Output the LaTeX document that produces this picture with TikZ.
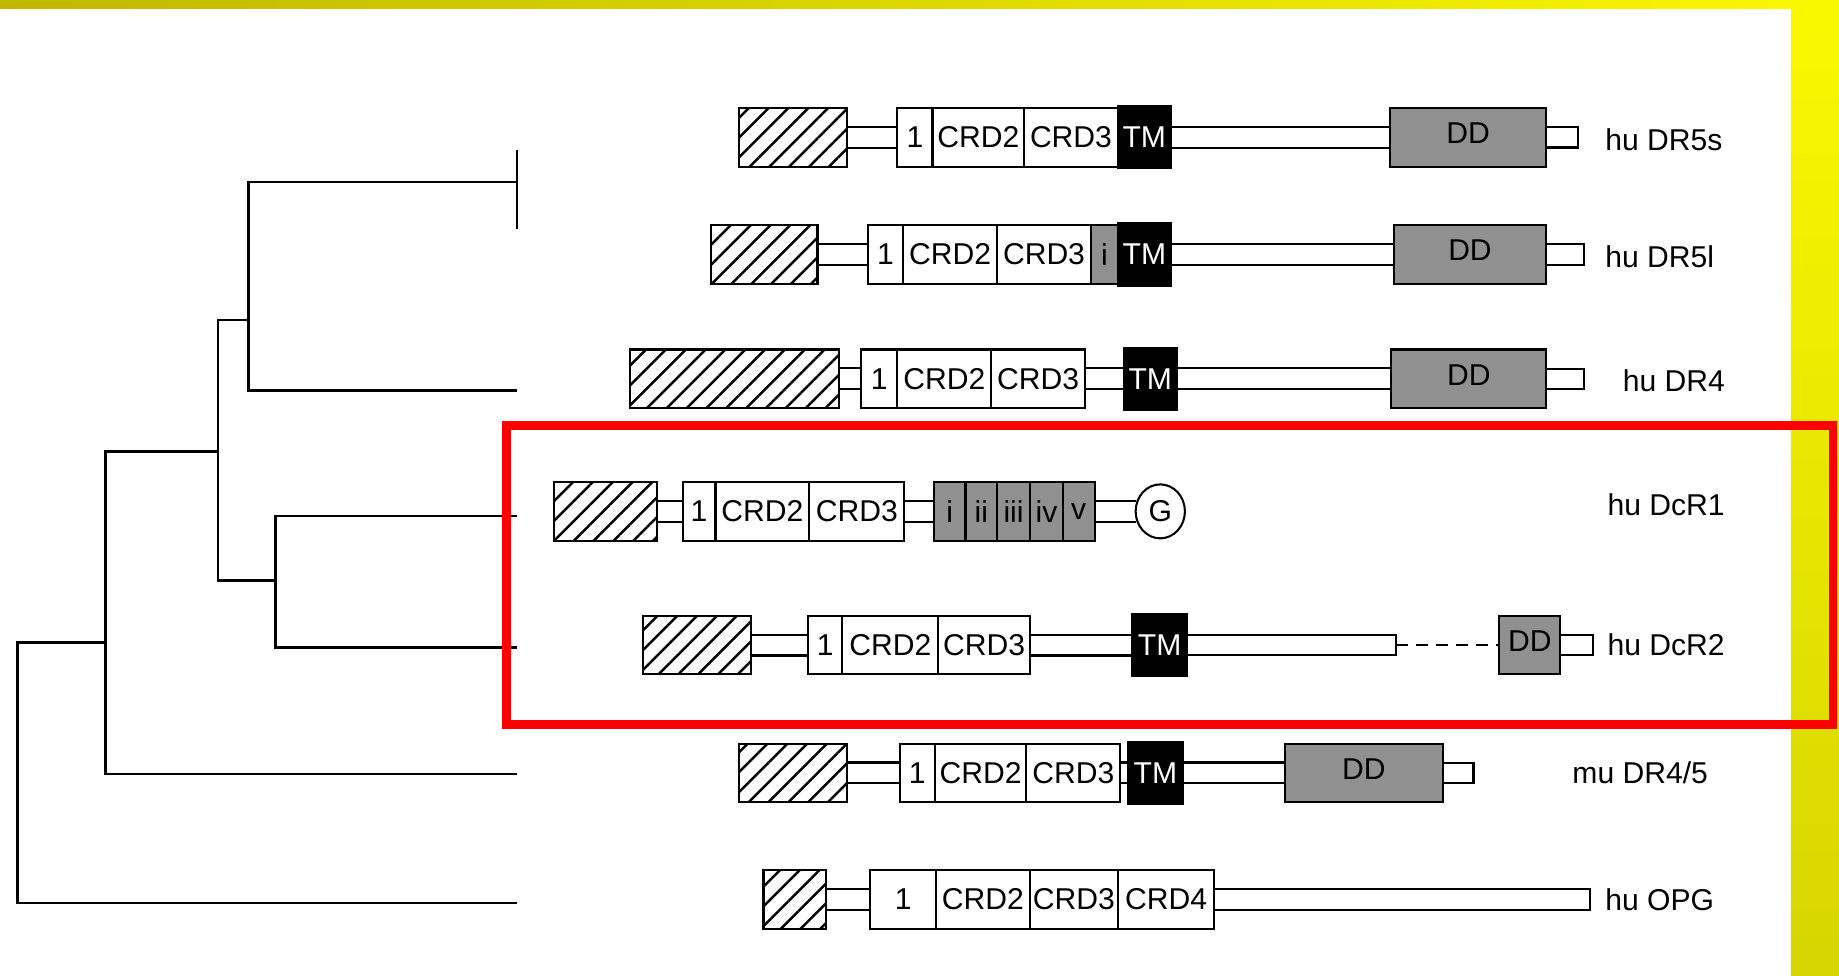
\documentclass[tikz,border=0pt]{standalone}
\usepackage{fontspec}
\setmainfont{Liberation Sans}
\usetikzlibrary{positioning, shapes.geometric, patterns.meta, backgrounds}
\pgfdeclarelayer{paper}
\pgfsetlayers{paper,background,main}
\newcommand\domfont{\fontsize{7.3}{8.5}\selectfont}
\definecolor{ddgrey}{RGB}{144,144,144}
\definecolor{hired}{RGB}{255,0,0}
\definecolor{bandleft}{RGB}{190,185,0}
\definecolor{bandright}{RGB}{250,248,0}
\definecolor{bandbottom}{RGB}{215,213,0}
\tikzset{
    sigbox/.style={rectangle, draw, line width=0.5pt, inner sep=0pt, outer sep=0pt, minimum height=0.5cm, minimum width=#1, pattern={Lines[angle=45, distance=3.4pt, line width=0.6pt]}},
    sigbox/.default=0.9cm,
    crdbox/.style={rectangle, draw, fill=white, line width=0.5pt, inner sep=0pt, outer sep=0pt, minimum height=0.5cm, minimum width=#1, font=\domfont},
    crdbox/.default=0.8cm,
    tmbox/.style={crdbox=#1, fill=black, text=white, minimum height=0.53cm},
    tmbox/.default=0.45cm,
    greybox/.style={crdbox=#1, fill=ddgrey},
    greybox/.default=0.27cm,
    ddbox/.style={greybox=#1, text depth=2pt},
    ddbox/.default=1.3cm,
    tailbox/.style={rectangle, draw, fill=white, line width=0.5pt, inner sep=0pt, outer sep=0pt, minimum height=0.175cm, minimum width=#1},
    tailbox/.default=0.3cm,
    gbox/.style={ellipse, draw, fill=white, line width=0.5pt, inner sep=0pt, outer sep=0pt, minimum width=0.42cm, minimum height=0.46cm, font=\domfont},
    linker/.style={draw, double=white, double distance=0.16cm, line width=0.5pt},
    protname/.style={anchor=west, inner sep=0pt, font=\domfont},
    branch/.style={line width=0.6pt},
    hilite/.style={draw=hired, line width=2.1pt}
}

\begin{document}
\begin{tikzpicture}[x=0.01cm, y=-0.01cm, node distance=0pt]

\useasboundingbox (0,0) rectangle (1568,832);
\begin{pgfonlayer}{paper}
    \fill[white] (0,0) rectangle (1568,832);
    \shade[left color=bandleft, right color=bandright] (0,0) rectangle (1568,7.5);
    \shade[top color=bandright, bottom color=bandbottom] (1527,0) rectangle (1568,832);
\end{pgfonlayer}

% hu DR5s
\node[sigbox=0.92cm, anchor=west] (dr5s-h) at (630,117) {};
\node[crdbox=0.30cm, right=0.43cm of dr5s-h] (dr5s-a) {1};
\node[crdbox=0.78cm, right=of dr5s-a] (dr5s-b) {CRD2};
\node[crdbox=0.80cm, right=of dr5s-b] (dr5s-c) {CRD3};
\node[tmbox=0.45cm, right=of dr5s-c] (dr5s-tm) {TM};
\node[ddbox=1.33cm, right=1.87cm of dr5s-tm] (dr5s-dd) {DD};
\node[tailbox=0.27cm, right=of dr5s-dd] (dr5s-t) {};
\node[protname] (dr5s-name) at (1368,119) {hu DR5s};

% hu DR5l
\node[sigbox=0.91cm, anchor=west] (dr5l-h) at (606,217) {};
\node[crdbox=0.30cm, right=0.43cm of dr5l-h] (dr5l-a) {1};
\node[crdbox=0.80cm, right=of dr5l-a] (dr5l-b) {CRD2};
\node[crdbox=0.80cm, right=of dr5l-b] (dr5l-c) {CRD3};
\node[greybox=0.23cm, right=of dr5l-c] (dr5l-i) {i};
\node[tmbox=0.45cm, right=of dr5l-i] (dr5l-tm) {TM};
\node[ddbox=1.30cm, right=1.90cm of dr5l-tm] (dr5l-dd) {DD};
\node[tailbox=0.32cm, right=of dr5l-dd] (dr5l-t) {};
\node[protname] (dr5l-name) at (1368,219) {hu DR5l};

% hu DR4
\node[sigbox=1.78cm, anchor=west] (dr4-h) at (537,323) {};
\node[crdbox=0.31cm, right=0.19cm of dr4-h] (dr4-a) {1};
\node[crdbox=0.80cm, right=of dr4-a] (dr4-b) {CRD2};
\node[crdbox=0.80cm, right=of dr4-b] (dr4-c) {CRD3};
\node[tmbox=0.45cm, right=0.33cm of dr4-c] (dr4-tm) {TM};
\node[ddbox=1.32cm, right=1.83cm of dr4-tm] (dr4-dd) {DD};
\node[tailbox=0.32cm, right=of dr4-dd] (dr4-t) {};
\node[protname] (dr4-name) at (1383,325) {hu DR4};

% hu DcR1
\node[sigbox=0.88cm, anchor=west] (dcr1-h) at (472,436) {};
\node[crdbox=0.28cm, right=0.22cm of dcr1-h] (dcr1-a) {1};
\node[crdbox=0.80cm, right=of dcr1-a] (dcr1-b) {CRD2};
\node[crdbox=0.81cm, right=of dcr1-b] (dcr1-c) {CRD3};
\node[greybox=0.27cm, right=0.25cm of dcr1-c] (dcr1-r1) {i};
\node[greybox=0.27cm, right=of dcr1-r1] (dcr1-r2) {ii};
\node[greybox=0.28cm, right=of dcr1-r2] (dcr1-r3) {iii};
\node[greybox=0.28cm, right=of dcr1-r3] (dcr1-r4) {iv};
\node[greybox=0.27cm, right=of dcr1-r4] (dcr1-r5) {v};
\node[gbox, right=0.35cm of dcr1-r5] (dcr1-g) {G};
\node[protname] (dcr1-name) at (1370,430) {hu DcR1};

% hu DcR2
\node[sigbox=0.92cm, anchor=west] (dcr2-h) at (548,550) {};
\node[crdbox=0.29cm, right=0.49cm of dcr2-h] (dcr2-a) {1};
\node[crdbox=0.82cm, right=of dcr2-a] (dcr2-b) {CRD2};
\node[crdbox=0.78cm, right=of dcr2-b] (dcr2-c) {CRD3};
\node[tmbox=0.47cm, right=0.87cm of dcr2-c] (dcr2-tm) {TM};
\node[tailbox=1.78cm, right=of dcr2-tm] (dcr2-s) {};
\node[ddbox=0.52cm, right=0.88cm of dcr2-s] (dcr2-dd) {DD};
\node[tailbox=0.28cm, right=of dcr2-dd] (dcr2-t) {};
\node[protname] (dcr2-name) at (1370,550) {hu DcR2};

% mu DR4/5
\node[sigbox=0.92cm, anchor=west] (mu-h) at (630,659) {};
\node[crdbox=0.30cm, right=0.45cm of mu-h] (mu-a) {1};
\node[crdbox=0.78cm, right=of mu-a] (mu-b) {CRD2};
\node[crdbox=0.80cm, right=of mu-b] (mu-c) {CRD3};
\node[tmbox=0.46cm, right=0.07cm of mu-c] (mu-tm) {TM};
\node[ddbox=1.35cm, right=0.87cm of mu-tm] (mu-dd) {DD};
\node[tailbox=0.26cm, right=of mu-dd] (mu-t) {};
\node[protname] (mu-name) at (1340,659) {mu DR4/5};

% hu OPG
\node[sigbox=0.53cm, anchor=west] (opg-h) at (651,767) {};
\node[crdbox=0.56cm, right=0.38cm of opg-h] (opg-a) {1};
\node[crdbox=0.80cm, right=of opg-a] (opg-b) {CRD2};
\node[crdbox=0.75cm, right=of opg-b] (opg-c) {CRD3};
\node[crdbox=0.82cm, right=of opg-c] (opg-d) {CRD4};
\node[tailbox=3.20cm, right=of opg-d] (opg-t) {};
\node[protname] (opg-name) at (1368,767) {hu OPG};

\begin{scope}[on background layer]
    \draw[linker] (dr5s-h) -- (dr5s-a);
    \draw[linker] (dr5s-tm) -- (dr5s-dd);
    \draw[linker] (dr5l-h) -- (dr5l-a);
    \draw[linker] (dr5l-tm) -- (dr5l-dd);
    \draw[linker] (dr4-h) -- (dr4-a);
    \draw[linker] (dr4-c) -- (dr4-tm);
    \draw[linker] (dr4-tm) -- (dr4-dd);
    \draw[linker] (dcr1-h) -- (dcr1-a);
    \draw[linker] (dcr1-c) -- (dcr1-r1);
    \draw[linker] (dcr1-r5) -- (dcr1-g);
    \draw[linker] (dcr2-h) -- (dcr2-a);
    \draw[linker] (dcr2-c) -- (dcr2-tm);
    \draw[linker] (mu-h) -- (mu-a);
    \draw[linker] (mu-c) -- (mu-tm);
    \draw[linker] (mu-tm) -- (mu-dd);
    \draw[linker] (opg-h) -- (opg-a);
\end{scope}
\draw[line width=0.5pt, dash pattern=on 0.1cm off 0.07cm] (dcr2-s) -- (dcr2-dd);

% tree
\coordinate (root) at (15,659);
\coordinate (n2) at (90,548);
\coordinate (n3) at (186,385);
\coordinate (n4) at (212,273);
\coordinate (n5) at (235,495);
\coordinate (leaf-dr5) at (441,155);
\coordinate (leaf-dr4) at (441,333);
\coordinate (leaf-dcr1) at (441,440);
\coordinate (leaf-dcr2) at (441,552);
\coordinate (leaf-mu) at (441,660);
\coordinate (leaf-opg) at (441,770);

\draw[branch] (root) |- (n2);
\draw[branch] (root) |- (leaf-opg);
\draw[branch] (n2) |- (n3);
\draw[branch] (n2) |- (leaf-mu);
\draw[branch] (n3) |- (n4);
\draw[branch] (n3) |- (n5);
\draw[branch] (n4) |- (leaf-dr5);
\draw[branch] (n4) |- (leaf-dr4);
\draw[branch] (n5) |- (leaf-dcr1);
\draw[branch] (n5) |- (leaf-dcr2);
\draw[branch] (leaf-dr5) ++(0,-27) -- ++(0,67);

\draw[hilite] (432,363) rectangle (1563,618);

\end{tikzpicture}
\end{document}
